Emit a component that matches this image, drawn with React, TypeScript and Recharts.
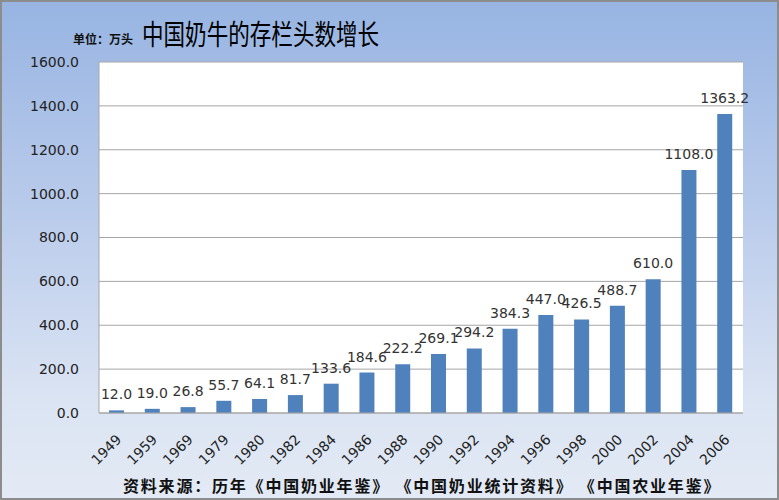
import { Bar, BarChart, CartesianGrid, LabelList, XAxis, YAxis } from "recharts";

const YEARS = [
  "1949", "1959", "1969", "1979", "1980", "1982", "1984", "1986", "1988",
  "1990", "1992", "1994", "1996", "1998", "2000", "2002", "2004", "2006",
];

const HEADS = [
  12.0, 19.0, 26.8, 55.7, 64.1, 81.7, 133.6, 184.6, 222.2,
  269.1, 294.2, 384.3, 447.0, 426.5, 488.7, 610.0, 1108.0, 1363.2,
];

const Y_TICKS = [0, 200, 400, 600, 800, 1000, 1200, 1400, 1600];

const data = YEARS.map((year, i) => ({ year, value: HEADS[i] }));

const FONT = "'DejaVu Sans', sans-serif";
const CJK = "'Noto Sans CJK SC', sans-serif";

function YearTick({ x, y, payload }: { x?: number; y?: number; payload?: { value: string } }) {
  return (
    <g transform={`translate(${(x ?? 0) + 2},${(y ?? 0) + 16})`}>
      <text
        x={0}
        y={0}
        dy="0.35em"
        textAnchor="end"
        transform="rotate(-45)"
        fontFamily={FONT}
        fontSize={14}
        fill="#222"
      >
        {payload?.value}
      </text>
    </g>
  );
}

export default function App() {
  return (
    <div
      style={{
        position: "absolute",
        left: 0,
        top: 0,
        width: 779,
        height: 500,
        background: "linear-gradient(to bottom, #97b4e2 0%, #bccdec 45%, #dbe4f3 80%, #e3eaf5 100%)",
        overflow: "hidden",
      }}
    >
      <BarChart
        width={779}
        height={500}
        data={data}
        margin={{ top: 62, right: 36, bottom: 57, left: 0 }}
        barSize={15}
      >
        <CartesianGrid vertical={false} stroke="#a6a6a6" fill="#ffffff" />
        <XAxis
          dataKey="year"
          height={30}
          interval={0}
          tickLine={false}
          axisLine={{ stroke: "#a6a6a6" }}
          tick={<YearTick />}
        />
        <YAxis
          width={99}
          domain={[0, 1600]}
          ticks={Y_TICKS}
          tickFormatter={(v: number) => v.toFixed(1)}
          tickLine={false}
          tickSize={8}
          tickMargin={12}
          axisLine={{ stroke: "#a6a6a6" }}
          tick={{ fontFamily: FONT, fontSize: 14, fill: "#222" }}
        />
        <Bar dataKey="value" fill="#4f81bd" isAnimationActive={false}>
          <LabelList
            dataKey="value"
            position="top"
            offset={11}
            formatter={(v: number) => v.toFixed(1)}
            style={{ fontFamily: FONT, fontSize: 14, fill: "#333" }}
          />
        </Bar>
      </BarChart>
      <div
        style={{
          position: "absolute",
          left: 73,
          top: 30,
          fontFamily: CJK,
          fontSize: 12,
          fontWeight: 700,
          color: "#111",
          lineHeight: "18px",
        }}
      >
        单位：万头
      </div>
      <div
        style={{
          position: "absolute",
          left: 142,
          top: 15,
          fontFamily: CJK,
          fontSize: 28,
          color: "#000",
          lineHeight: "36px",
          transform: "scaleX(0.77)",
          transformOrigin: "left center",
          whiteSpace: "nowrap",
        }}
      >
        中国奶牛的存栏头数增长
      </div>
      <div
        style={{
          position: "absolute",
          left: 123,
          top: 475,
          fontFamily: CJK,
          fontSize: 16,
          fontWeight: 700,
          color: "#111",
          lineHeight: "20px",
          letterSpacing: 1.8,
          whiteSpace: "pre",
        }}
      >
        {"资料来源：历年《中国奶业年鉴》 《中国奶业统计资料》 《中国农业年鉴》"}
      </div>
      <div
        style={{
          position: "absolute",
          left: 0,
          top: 0,
          width: 779,
          height: 500,
          boxSizing: "border-box",
          border: "2px solid #8c8c8c",
          pointerEvents: "none",
        }}
      />
    </div>
  );
}
